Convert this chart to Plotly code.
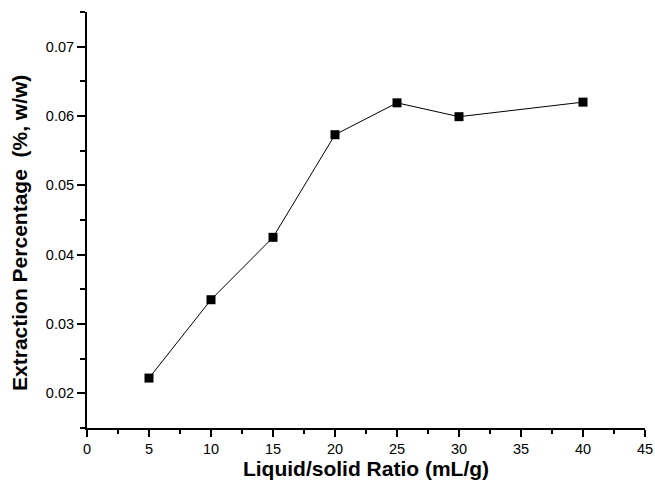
import plotly.graph_objects as go

ratio = [5, 10, 15, 20, 25, 30, 40]
extraction = [0.0222, 0.0335, 0.0425, 0.0573, 0.0619, 0.0599, 0.0620]

x_ticks = [0, 5, 10, 15, 20, 25, 30, 35, 40, 45]
y_ticks = [0.02, 0.03, 0.04, 0.05, 0.06, 0.07]

fig = go.Figure()
fig.add_trace(go.Scatter(
    x=ratio, y=extraction, mode="lines+markers",
    line=dict(color="black", width=1),
    marker=dict(symbol="square", size=9, color="black"),
    showlegend=False,
))

font_family = "Liberation Sans, Arial, sans-serif"

fig.update_layout(
    width=655, height=491,
    margin=dict(l=87, r=10, t=12, b=63),
    plot_bgcolor="white", paper_bgcolor="white",
    font=dict(family=font_family, color="black"),
)
fig.update_xaxes(
    range=[0, 45], tickvals=x_ticks, ticktext=[str(v) for v in x_ticks],
    automargin=False,
    showgrid=False, zeroline=False, showline=True, linecolor="black", linewidth=2,
    ticks="outside", ticklen=7, tickwidth=2, tickcolor="black",
    minor=dict(dtick=2.5, ticks="outside", ticklen=4, tickwidth=2, tickcolor="black"),
    tickfont=dict(size=14.5, family=font_family),
    title=dict(text="<b>Liquid/solid Ratio (mL/g)</b>", font=dict(size=21, family=font_family), standoff=5),
)
fig.update_yaxes(
    range=[0.015, 0.075], tickvals=y_ticks, ticktext=[f"{v:.2f}" for v in y_ticks],
    automargin=False,
    showgrid=False, zeroline=False, showline=True, linecolor="black", linewidth=2,
    ticks="outside", ticklen=8, tickwidth=2, tickcolor="black",
    minor=dict(dtick=0.005, ticks="outside", ticklen=5, tickwidth=2, tickcolor="black"),
    tickfont=dict(size=14.5, family=font_family),
)
fig.add_annotation(
    text="<b>Extraction Percentage\u00a0\u00a0(%, w/w)</b>",
    xref="paper", yref="paper", x=-0.12, y=0.469,
    xanchor="center", yanchor="middle", textangle=-90, showarrow=False,
    font=dict(size=21, family=font_family, color="black"),
)

fig.write_html("out.html")
